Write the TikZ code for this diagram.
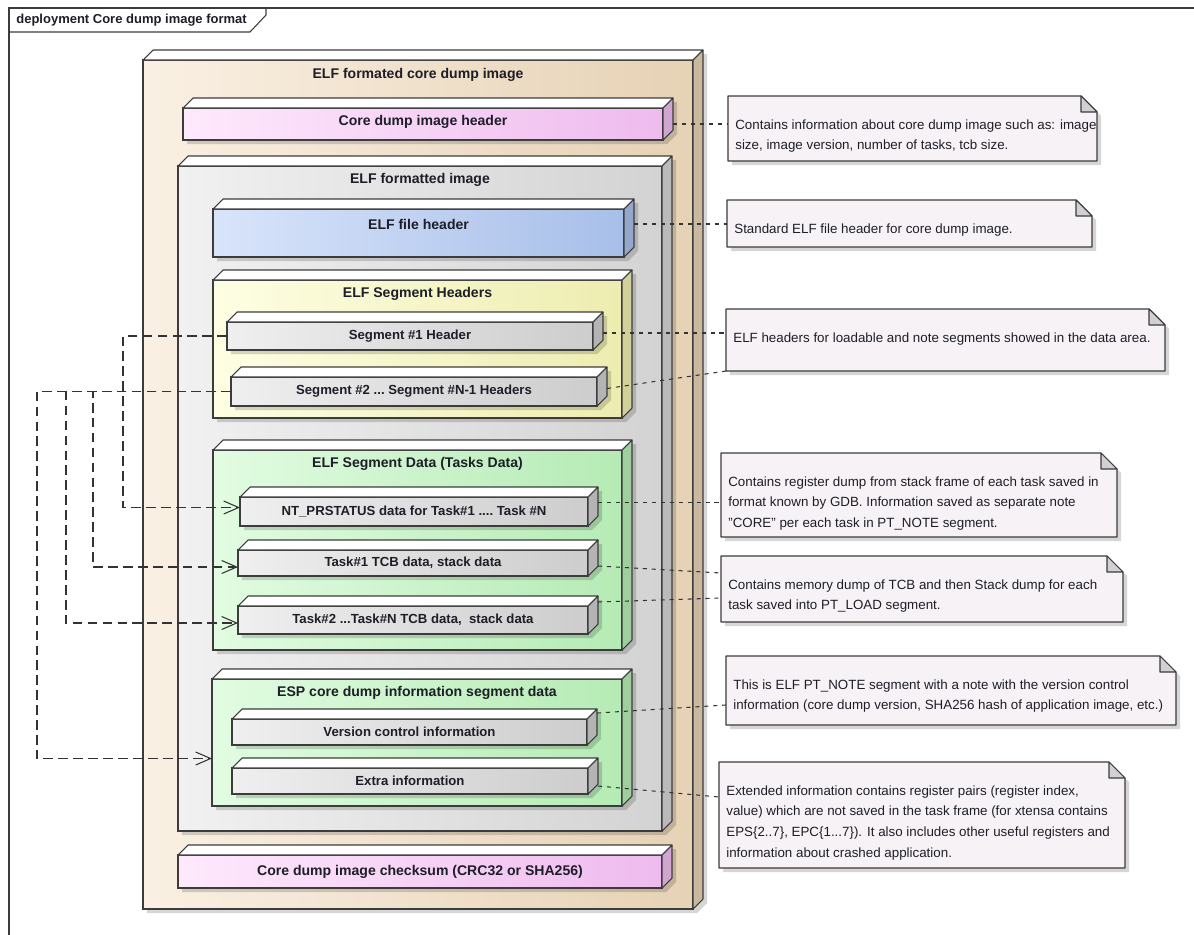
\documentclass[tikz,border=0pt]{standalone}
\usepackage{fontspec}
\setmainfont{Liberation Sans}
\usepackage{tikz}
\usepackage{xcolor}
\usetikzlibrary{arrows.meta}
\definecolor{EA_Edge}{HTML}{3C3C3C}
\definecolor{EA_Text}{HTML}{1E1E28}
\definecolor{EA_Tan}{HTML}{FAF0E3}
\definecolor{EA_TanDark}{HTML}{E6D2B5}
\definecolor{EA_Pink}{HTML}{FEE9FC}
\definecolor{EA_PinkDark}{HTML}{EEBBEE}
\definecolor{EA_Grey}{HTML}{F1F1F1}
\definecolor{EA_GreyDark}{HTML}{D3D3D3}
\definecolor{EA_Blue}{HTML}{D8E4FA}
\definecolor{EA_BlueDark}{HTML}{A8BFE9}
\definecolor{EA_Yellow}{HTML}{FEFEE4}
\definecolor{EA_YellowDark}{HTML}{EDEDB0}
\definecolor{EA_Bar}{HTML}{EFEFEF}
\definecolor{EA_BarDark}{HTML}{CDCDCD}
\definecolor{EA_Green}{HTML}{E2FCE2}
\definecolor{EA_GreenDark}{HTML}{B5EBB5}
\definecolor{EA_Note}{HTML}{F6F2F6}
\definecolor{EA_Fold}{HTML}{D3D0D3}

% 3D deployment box: name, left, top, width, height, light, dark
\newcommand{\devbox}[7]{%
    \fill[boxshadow] (#2+4,#3+4) -- ++(10,-10) -- ++(#4,0) -- ++(0,#5) -- ++(-10,10) -- ++(-#4,0) -- cycle;
    \node[devface, left color=#6, right color=#7, minimum width=#4*0.02cm, minimum height=#5*0.02cm] (#1) at (#2,#3) {};
    \draw[devedge, fill=white] (#1.north west) -- ++(10,-10) -- ++(#4,0) -- (#1.north east) -- cycle;
    \draw[devedge, fill=#7!88!black] (#1.north east) -- ++(10,-10) -- ++(0,#5) -- (#1.south east) -- cycle;
}
% note with folded corner: name, left, top, width, height
\newcommand{\umlnote}[5]{%
    \fill[boxshadow] (#2+4,#3+4) -- (#2+#4-12,#3+4) -- (#2+#4+4,#3+20) -- (#2+#4+4,#3+#5+4) -- (#2+4,#3+#5+4) -- cycle;
    \node[note, minimum width=#4*0.02cm, minimum height=#5*0.02cm] (#1) at (#2,#3) {};
    \draw[devedge, fill=EA_Note] (#1.north west) -- ([xshift=-0.32cm]#1.north east) -- ([yshift=-0.32cm]#1.north east) -- (#1.south east) -- (#1.south west) -- cycle;
    \draw[devedge, fill=EA_Fold] ([xshift=-0.32cm]#1.north east) |- ([yshift=-0.32cm]#1.north east) -- cycle;
}

\begin{document}
\begin{tikzpicture}[x=0.02cm, y=-0.02cm,
    devface/.style={draw=EA_Edge, line width=0.6pt, rectangle, anchor=north west, inner sep=0pt, outer sep=0pt},
    devedge/.style={draw=EA_Edge, line width=0.6pt, line join=round},
    boxshadow/.style={fill=black, opacity=0.16},
    frameline/.style={draw=EA_Edge, line width=0.6pt},
    frametitle/.style={font=\fontsize{7.4}{9}\selectfont\bfseries, text=EA_Text, inner sep=0pt},
    grouptitle/.style={font=\fontsize{8}{9.6}\selectfont\bfseries, text=EA_Text, inner sep=0pt},
    bartext/.style={font=\fontsize{7.5}{9}\selectfont\bfseries, text=EA_Text, inner sep=0pt},
    note/.style={rectangle, anchor=north west, inner sep=0pt, outer sep=0pt},
    notetext/.style={font=\fontsize{7.6}{11.8}\selectfont, text=EA_Text, align=left, anchor=north west, inner sep=0pt},
    noteline/.style={draw=EA_Edge!85!black, line width=0.6pt, dash pattern=on 2.3pt off 2.8pt},
    dep/.style={draw=EA_Edge!85!black, line width=0.6pt, dash pattern=on 5.5pt off 3pt, -{Straight Barb[length=3mm, width=2.6mm]}},
]
    \useasboundingbox (0,0) rectangle (1194,934);
    \fill[white] (0,0) rectangle (1194,934);

    % Frame
    \draw[frameline] (9,8) rectangle (1230,960);
    \draw[frameline] (9,32) -- (250,32) -- (266,15) -- (266,8);
    \node[frametitle, anchor=west] (frameTitle) at (16,20) {deployment Core dump image format};

    % Boxes
    \devbox{outer}{143}{60}{550}{849}{EA_Tan}{EA_TanDark}
    \devbox{hdr}{183}{108}{480}{32}{EA_Pink}{EA_PinkDark}
    \devbox{elfimg}{178}{166}{484}{665}{EA_Grey}{EA_GreyDark}
    \devbox{elfhdr}{213}{209}{411}{48}{EA_Blue}{EA_BlueDark}
    \devbox{seghdrs}{213}{280}{409}{138}{EA_Yellow}{EA_YellowDark}
    \devbox{seg1}{227}{322}{366}{28}{EA_Bar}{EA_BarDark}
    \devbox{seg2}{231}{377}{366}{29}{EA_Bar}{EA_BarDark}
    \devbox{segdata}{213}{450}{409}{200}{EA_Green}{EA_GreenDark}
    \devbox{ntdata}{240}{497}{348}{29}{EA_Bar}{EA_BarDark}
    \devbox{tcb1}{238}{550}{350}{26}{EA_Bar}{EA_BarDark}
    \devbox{tcb2}{238}{606}{350}{28}{EA_Bar}{EA_BarDark}
    \devbox{espinfo}{212}{679}{410}{127}{EA_Green}{EA_GreenDark}
    \devbox{verinfo}{232}{719}{355}{26}{EA_Bar}{EA_BarDark}
    \devbox{extra}{232}{768}{356}{26}{EA_Bar}{EA_BarDark}
    \devbox{checksum}{178}{855}{484}{33}{EA_Pink}{EA_PinkDark}

    % Box labels
    \node[grouptitle] (outerTitle) at ([shift={(0,15)}]outer.north) {ELF formated core dump image};
    \node[grouptitle] (hdrText) at ([shift={(0,-2)}]hdr.center) {Core dump image header};
    \node[grouptitle] (elfimgTitle) at ([shift={(0,14)}]elfimg.north) {ELF formatted image};
    \node[grouptitle] (elfhdrText) at ([shift={(0,-9)}]elfhdr.center) {ELF file header};
    \node[grouptitle] (seghdrsTitle) at ([shift={(0,14)}]seghdrs.north) {ELF Segment Headers};
    \node[bartext] (seg1Text) at (seg1.center) {Segment \#1 Header};
    \node[bartext] (seg2Text) at (seg2.center) {Segment \#2 ...\ Segment \#N-1 Headers};
    \node[grouptitle] (segdataTitle) at ([shift={(0,14)}]segdata.north) {ELF Segment Data (Tasks Data)};
    \node[bartext] (ntdataText) at (ntdata.center) {NT\_PRSTATUS data for Task\#1 ....\ Task \#N};
    \node[bartext] (tcb1Text) at (tcb1.center) {Task\#1 TCB data, stack data};
    \node[bartext] (tcb2Text) at (tcb2.center) {Task\#2 ...Task\#N TCB data,\ \ stack data};
    \node[grouptitle] (espinfoTitle) at ([shift={(0,14)}]espinfo.north) {ESP core dump information segment data};
    \node[bartext] (verinfoText) at (verinfo.center) {Version control information};
    \node[bartext] (extraText) at (extra.center) {Extra information};
    \node[grouptitle] (checksumText) at (checksum.center) {Core dump image checksum (CRC32 or SHA256)};

    % Notes
    \umlnote{n1}{728}{96}{369}{65}
    \umlnote{n2}{727}{200}{365}{47}
    \umlnote{n3}{726}{309}{439}{62}
    \umlnote{n4}{721}{453}{396}{84}
    \umlnote{n5}{721}{556}{402}{66}
    \umlnote{n6}{726}{656}{450}{69}
    \umlnote{n7}{719}{762}{406}{106}
    \node[notetext] (n1text) at ([shift={(7,23)}]n1.north west) {Contains information about core dump image such as: image\\size, image version, number of tasks, tcb size.};
    \node[notetext] (n2text) at ([shift={(7,23)}]n2.north west) {Standard ELF file header for core dump image.};
    \node[notetext] (n3text) at ([shift={(7,23)}]n3.north west) {ELF headers for loadable and note segments showed in the data area.};
    \node[notetext] (n4text) at ([shift={(7,23)}]n4.north west) {Contains register dump from stack frame of each task saved in\\format known by GDB. Information saved as separate note\\"CORE" per each task in PT\_NOTE segment.};
    \node[notetext] (n5text) at ([shift={(7,23)}]n5.north west) {Contains memory dump of TCB and then Stack dump for each\\task saved into PT\_LOAD segment.};
    \node[notetext] (n6text) at ([shift={(7,23)}]n6.north west) {This is ELF PT\_NOTE segment with a note with the version control\\information (core dump version, SHA256 hash of application image, etc.)};
    \node[notetext] (n7text) at ([shift={(7,23)}]n7.north west) {Extended information contains register pairs (register index,\\value) which are not saved in the task frame (for xtensa contains\\EPS\{2..7\}, EPC\{1...7\}). It also includes other useful registers and\\information about crashed application.};

    % Note links
    \coordinate (hdrR) at ([xshift=0.2cm]hdr.east);
    \coordinate (elfhdrR) at ([shift={(10,-9)}]elfhdr.east);
    \coordinate (seg1R) at ([shift={(10,-3)}]seg1.east);
    \coordinate (seg2R) at ([shift={(10,-3)}]seg2.east);
    \coordinate (ntdataR) at ([shift={(10,-9)}]ntdata.east);
    \coordinate (tcb1R) at ([shift={(10,3)}]tcb1.east);
    \coordinate (tcb2R) at ([shift={(10,-18)}]tcb2.east);
    \coordinate (verinfoR) at ([shift={(10,-19)}]verinfo.east);
    \coordinate (extraR) at ([shift={(10,-8)}]extra.south east);
    \draw[noteline] (hdrR) -- (hdrR -| n1.west);
    \draw[noteline] (elfhdrR) -- (elfhdrR -| n2.west);
    \draw[noteline] (seg1R) -- (seg1R -| n3.west);
    \draw[noteline] (seg2R) -- (n3.south west);
    \draw[noteline] (ntdataR) -- (ntdataR -| n4.west);
    \draw[noteline] (tcb1R) -- ([yshift=0.32cm]n5.west);
    \draw[noteline] (tcb2R) -- ([yshift=-0.18cm]n5.west);
    \draw[noteline] (verinfoR) -- ([yshift=-0.29cm]n6.west);
    \draw[noteline] (extraR) -- ([yshift=0.36cm]n7.west);

    % Headers to data
    \draw[dep] (seg1.west) -- ++(-104,0) |- ([yshift=0.08cm]ntdata.west);
    \draw[dep] (seg2.west) -- ++(-138,0) |- ([yshift=-0.08cm]tcb1.west);
    \draw[dep] (seg2.west) -- ++(-165,0) |- ([yshift=-0.06cm]tcb2.west);
    \draw[dep] (seg2.west) -- ++(-194,0) |- ([yshift=-0.32cm]espinfo.west);
\end{tikzpicture}
\end{document}
